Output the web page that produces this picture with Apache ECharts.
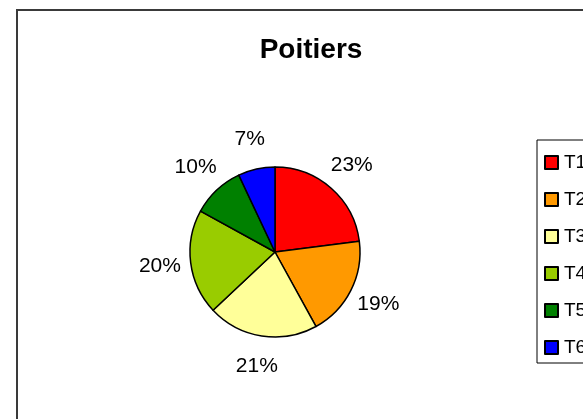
<!DOCTYPE html>
<html>
<head>
<meta charset="utf-8">
<script src="https://cdn.jsdelivr.net/npm/echarts@6/dist/echarts.min.js"></script>
<style>
  html, body { margin: 0; padding: 0; background: #fff; }
  #chart { width: 583px; height: 419px; }
</style>
</head>
<body>
<div id="chart"></div>
<script>
// Shares per category (percent)
const categories = ['T1', 'T2', 'T3', 'T4', 'T5', 'T6'];
const shares = [23, 19, 21, 20, 10, 7];
const sliceColors = ['#FF0000', '#FF9900', '#FFFF99', '#99CC00', '#008000', '#0000FF'];
const chartTitle = 'Poitiers';

const FONT = '"Liberation Sans", Arial, sans-serif';
const pieData = categories.map((name, i) => ({
  name: name,
  value: shares[i],
  itemStyle: { color: sliceColors[i] }
}));

const chart = echarts.init(document.getElementById('chart'), null, { renderer: 'canvas' });
chart.setOption({
  animation: false,
  backgroundColor: '#ffffff',
  title: {
    text: chartTitle,
    left: 306,
    top: 31,
    textAlign: 'center',
    textStyle: { fontFamily: FONT, fontSize: 28, fontWeight: 'bold', color: '#000' }
  },
  graphic: [{
    type: 'rect',
    z: 100,
    silent: true,
    shape: { x: 17, y: 10, width: 800, height: 600 },
    style: { fill: null, stroke: '#3a3a3a', lineWidth: 2 }
  }],
  legend: {
    orient: 'vertical',
    left: 537,
    top: 140,
    padding: [13, 30, 6, 7],
    itemGap: 18,
    itemWidth: 13,
    itemHeight: 13,
    borderColor: '#000',
    borderWidth: 1,
    icon: 'rect',
    data: categories,
    textStyle: { fontFamily: FONT, fontSize: 19, color: '#000', lineHeight: 16, padding: [0, 0, 0, 1] }
  },
  series: [
    {
      type: 'pie',
      center: [275, 252],
      radius: [0, 85],
      startAngle: 90,
      clockwise: true,
      avoidLabelOverlap: false,
      label: { show: false },
      labelLine: { show: false },
      itemStyle: { borderColor: '#000', borderWidth: 1.5 },
      emphasis: { disabled: true },
      data: pieData
    },
    {
      // transparent ring used only to place the percentage labels outside the pie
      type: 'pie',
      center: [275, 252],
      radius: [0, 226],
      startAngle: 90,
      clockwise: true,
      silent: true,
      z: 1,
      avoidLabelOverlap: false,
      legendHoverLink: false,
      itemStyle: { color: 'rgba(0,0,0,0)', borderWidth: 0 },
      label: {
        show: true,
        position: 'inside',
        formatter: p => p.value + '%',
        fontFamily: FONT,
        fontSize: 21,
        color: '#000'
      },
      labelLine: { show: false },
      emphasis: { disabled: true },
      data: categories.map((name, i) => ({ name: name, value: shares[i] }))
    }
  ]
});
</script>
</body>
</html>
